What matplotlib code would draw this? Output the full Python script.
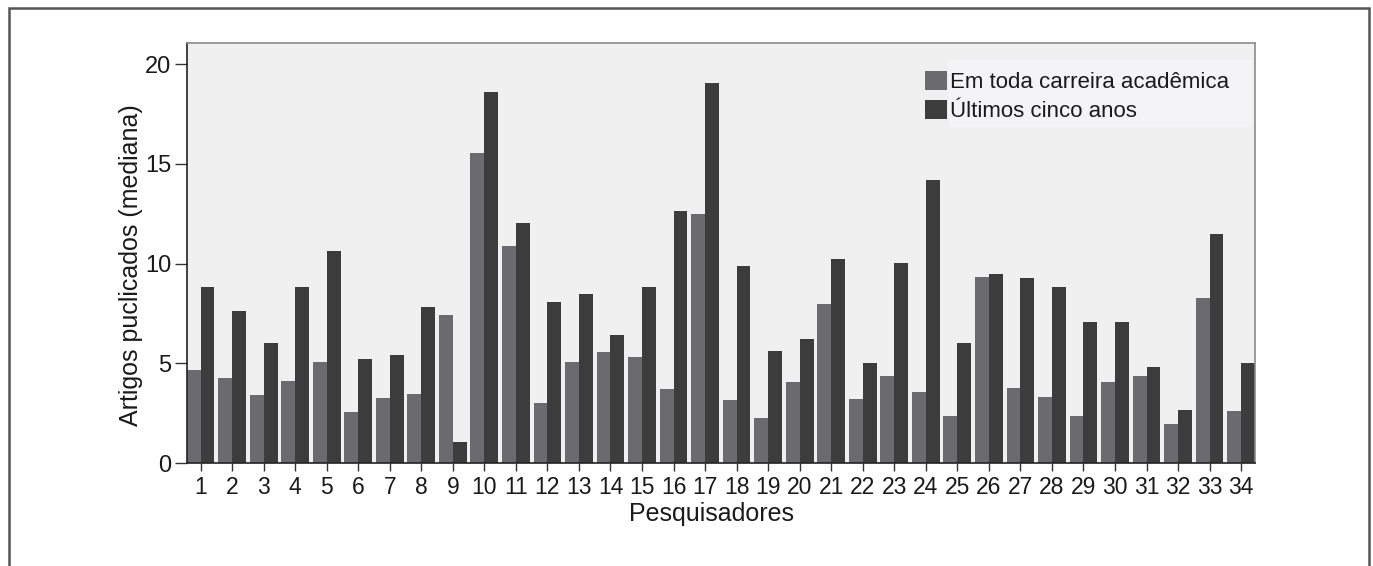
import matplotlib
matplotlib.use("Agg")
import matplotlib.pyplot as plt
from matplotlib.patches import Rectangle, Patch
import numpy as np

plt.rcParams['font.family'] = ['Liberation Sans', 'DejaVu Sans']

researchers = [str(i) for i in range(1, 35)]
career = [4.67, 4.29, 3.42, 4.12, 5.08, 2.57, 3.27, 3.47, 7.43, 15.54,
          10.88, 3.02, 5.08, 5.58, 5.33, 3.72, 12.47, 3.17, 2.27, 4.07,
          7.98, 3.22, 4.37, 3.57, 2.37, 9.33, 3.77, 3.32, 2.37, 4.07,
          4.37, 1.97, 8.28, 2.62]
last5 = [8.83, 7.63, 6.03, 8.83, 10.63, 5.23, 5.43, 7.83, 1.07, 18.61,
         12.04, 8.06, 8.48, 6.43, 8.83, 12.64, 19.03, 9.88, 5.63, 6.23,
         10.23, 5.03, 10.03, 14.21, 6.03, 9.48, 9.28, 8.83, 7.08, 7.08,
         4.82, 2.67, 11.49, 5.03]
series_labels = ["Em toda carreira acadêmica", "Últimos cinco anos"]
yticks = [0, 5, 10, 15, 20]

c_gray = "#6b6b6f"
c_dark = "#3c3c3c"
c_text = "#1a1a1a"

W, H = 1373, 566
fig = plt.figure(figsize=(W / 100, H / 100), dpi=100)
fig.patch.set_facecolor("white")
# outer frame (bottom edge lies outside the image)
fig.patches.append(Rectangle((8.5 / W, -10 / H), (1369 - 8.5) / W, (H - 8 + 10) / H,
                             transform=fig.transFigure, fill=False,
                             edgecolor="#555555", linewidth=1.8))

ax = fig.add_axes([186.7 / W, (H - 463.3) / H, (1255 - 186.7) / W, (463.3 - 42.7) / H])
ax.set_facecolor("#f0f0f0")

x = np.arange(1, len(researchers) + 1)
w = 0.44
ax.bar(x - w / 2, career, width=w, color=c_gray, edgecolor="none")
ax.bar(x + w / 2, last5, width=w, color=c_dark, edgecolor="none")

ax.set_xlim(1 - w, len(researchers) + w)
ax.set_ylim(0, 21.07)
ax.set_xticks(x)
ax.set_xticklabels(researchers, fontsize=16.5, color=c_text)
ax.set_yticks(yticks)
ax.set_yticklabels([str(v) for v in yticks], fontsize=17, color=c_text)
ax.tick_params(axis="y", direction="out", length=9, width=1, color="#333333", pad=2)
ax.tick_params(axis="x", direction="out", length=6, width=1, color="#333333", pad=3)

for s in ["left", "bottom"]:
    ax.spines[s].set_color("#222222")
    ax.spines[s].set_linewidth(1.2)
for s in ["top", "right"]:
    ax.spines[s].set_color("#8a8a8a")
    ax.spines[s].set_linewidth(1.2)

ax.set_ylabel("Artigos puclicados (mediana)", fontsize=18, color=c_text)
ax.yaxis.set_label_coords(-0.041, 0.471)
ax.set_xlabel("Pesquisadores", fontsize=18, color=c_text)
ax.xaxis.set_label_coords(0.491, -0.093)

# legend background box
ax.add_patch(Rectangle((949, H - 127), 303, 67, transform=None,
                       facecolor="#f4f4f6", edgecolor="none", zorder=3))
handles = [Patch(facecolor=c_gray, edgecolor="none"),
           Patch(facecolor=c_dark, edgecolor="none")]
leg = ax.legend(handles, series_labels, loc="upper left",
                bbox_to_anchor=(925 / W, (H - 71) / H),
                bbox_transform=fig.transFigure, frameon=False,
                fontsize=16, handlelength=1.0, handleheight=0.95,
                handletextpad=0.13, labelspacing=0.3, borderpad=0,
                borderaxespad=0)
leg.set_zorder(4)
for t in leg.get_texts():
    t.set_color(c_text)

fig.savefig("out.png", dpi=100)
